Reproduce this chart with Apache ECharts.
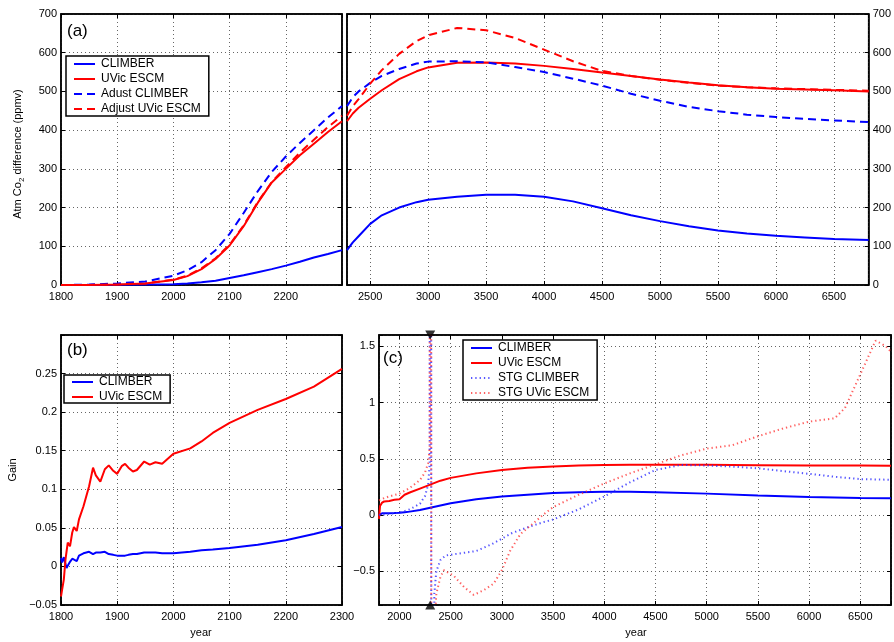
<!DOCTYPE html>
<html><head><meta charset="utf-8">
<script src="https://cdn.jsdelivr.net/npm/echarts@6/dist/echarts.min.js"></script>
<style>html,body{margin:0;padding:0;background:#fff}#c{width:894px;height:642px}</style>
</head><body><div id="c"></div>
<script>
// ---------- Panel (a), left part: 1800-2300 ----------
const yearsA1 = [1800,1850,1900,1950,2000,2025,2050,2075,2100,2125,2150,2175,2200,2225,2250,2275,2300];
const climberA1 = [0,0.2,0.5,1,2,4,7,11,18,25,33,41,50,60,71,80,90];
const uvicA1 = [0,0.3,1.5,4,13,23,41,67,102,152,212,265,300,335,365,395,423];
const adjClimberA1 = [0,1,4,9,24,38,59,90,132,186,242,292,332,367,400,433,462];
const adjUvicA1 = [0,0.3,1.5,4,14,24,43,69,104,154,214,266,304,342,375,408,437];

// ---------- Panel (a), right part: 2300-6800 ----------
const yearsA2 = [2300,2350,2400,2500,2600,2750,2900,3000,3250,3500,3750,4000,4250,4500,4750,5000,5250,5500,5750,6000,6250,6500,6800];
const climberA2 = [90,110,126,158,180,200,214,220,228,233,233,228,216,198,180,165,152,141,133,127,123,119,116];
const uvicA2 = [423,443,458,481,503,532,552,562,574,575,572,566,558,549,540,531,523,516,511,507,505,503,500];
const adjClimberA2 = [462,485,500,522,540,558,572,577,578,575,563,550,533,515,494,476,460,449,440,434,429,425,421];
const adjUvicA2 = [437,462,480,520,555,597,630,645,664,658,638,608,578,553,540,530,522,515,511,508,506,504,502];

// ---------- Panel (b): Gain 1800-2300 ----------
const yearsB = [1800,1802,1805,1808,1810,1812,1816,1820,1823,1828,1832,1840,1850,1857,1862,1870,1878,1885,1893,1900,1908,1914,1920,1928,1935,1948,1958,1968,1980,2000,2030,2050,2070,2100,2150,2200,2250,2300];
const uvicB = [-0.039,-0.03,-0.017,0.009,0.02,0.031,0.026,0.044,0.051,0.046,0.061,0.078,0.104,0.128,0.118,0.110,0.126,0.131,0.124,0.120,0.130,0.133,0.128,0.123,0.125,0.136,0.132,0.135,0.133,0.146,0.153,0.162,0.173,0.186,0.203,0.217,0.233,0.256];
const climberB = [0.011,0.005,0.012,0.003,-0.002,0.001,0.006,0.010,0.008,0.007,0.014,0.017,0.019,0.016,0.018,0.018,0.019,0.016,0.015,0.014,0.014,0.014,0.015,0.016,0.016,0.018,0.018,0.018,0.017,0.017,0.019,0.021,0.022,0.024,0.028,0.034,0.042,0.051];

// ---------- Panel (c): 1800-6800 ----------
const yearsC = [1800,1810,1830,1850,1900,1950,2000,2050,2100,2200,2300,2400,2500,2750,3000,3250,3500,3750,4000,4250,4500,5000,5500,6000,6500,6800];
const climberC = [0,0.015,0.015,0.015,0.015,0.017,0.02,0.025,0.03,0.045,0.065,0.085,0.105,0.14,0.165,0.18,0.195,0.203,0.207,0.207,0.202,0.19,0.173,0.16,0.152,0.148];
const uvicC = [-0.035,0.08,0.11,0.12,0.125,0.135,0.14,0.18,0.2,0.235,0.27,0.305,0.33,0.37,0.40,0.42,0.432,0.44,0.445,0.447,0.447,0.446,0.443,0.44,0.44,0.438];
const yearsStgClimber = [1800,1900,2000,2100,2200,2250,2280,2295,2305,2315,2340,2360,2400,2450,2600,2750,2900,3000,3100,3250,3400,3500,3750,4000,4250,4500,4750,5000,5250,5500,5750,6000,6250,6500,6800];
const stgClimber = [0,0.01,0.02,0.05,0.10,0.17,0.27,0.45,30,-30,-0.7,-0.5,-0.40,-0.36,-0.34,-0.32,-0.26,-0.21,-0.16,-0.11,-0.065,-0.04,0.05,0.165,0.29,0.40,0.445,0.44,0.43,0.415,0.39,0.366,0.34,0.319,0.313];
const yearsStgUvic = [1800,1850,1900,2000,2100,2200,2250,2280,2295,2305,2315,2340,2360,2400,2434,2530,2630,2725,2820,2920,3000,3080,3180,3300,3400,3500,3750,4000,4250,4500,4750,5000,5250,5500,5750,6000,6250,6350,6500,6650,6750,6800];
const stgUvic = [0.13,0.15,0.165,0.19,0.24,0.31,0.38,0.46,0.6,30,-30,-1.0,-0.7,-0.55,-0.49,-0.54,-0.64,-0.71,-0.67,-0.61,-0.49,-0.32,-0.17,-0.08,0.0,0.07,0.18,0.28,0.37,0.45,0.53,0.59,0.62,0.70,0.77,0.83,0.86,0.95,1.25,1.55,1.50,1.45];
const markerYears = [2300];

// ---------- tick label lists ----------
const ticksA = [0,100,200,300,400,500,600,700];
const ticksB = [-0.05,0,0.05,0.1,0.15,0.2,0.25];
const ticksC = [-0.5,0,0.5,1,1.5];

const FONT = "'Liberation Sans', Arial, Helvetica, sans-serif";
const BLUE = '#0000ff', RED = '#ff0000';
const zip = (xs, ys) => xs.map((x, i) => [x, ys[i]]);

function fmtNum(v) {
  const r = parseFloat(v.toFixed(4));
  return r < 0 ? '\u2212' + String(-r) : String(r);
}
function onlyIn(list) {
  return v => {
    const r = parseFloat(v.toFixed(4));
    return list.some(t => Math.abs(t - r) < 1e-6) ? fmtNum(r) : '';
  };
}
function multipleOf(step, hide) {
  return v => {
    const k = v / step;
    if (Math.abs(k - Math.round(k)) > 1e-6) return '';
    if (hide && hide.includes(v)) return '';
    return String(v);
  };
}

const gridLine = { show: true, lineStyle: { type: [1, 3], color: '#666', width: 1 } };
const axLine = { show: true, onZero: false, lineStyle: { color: '#000', width: 1.5 } };
const axTick = { show: true, inside: true, length: 4, lineStyle: { color: '#000', width: 1 } };
const lblStyle = { color: '#000', fontSize: 11, fontFamily: FONT };

function mkAx(gi, min, max, pos, spacing, formatter, show, margin) {
  const a = { type: 'value', gridIndex: gi, min, max, position: pos,
    axisLine: axLine, axisTick: axTick,
    splitLine: show ? gridLine : { show: false },
    axisLabel: show ? Object.assign({ formatter, margin, showMinLabel: true, showMaxLabel: true }, lblStyle) : { show: false } };
  Object.assign(a, spacing);
  return a;
}
const xAx = (gi, min, max, pos, sp, f, show) => mkAx(gi, min, max, pos, sp, f, show, 6);
const yAx = (gi, min, max, pos, sp, f, show) => mkAx(gi, min, max, pos, sp, f, show, 4);

const solid = c => ({ color: c, width: 2, type: 'solid' });
const dashed = c => ({ color: c, width: 2, type: [8, 5] });
const dotted = (c, o) => ({ color: c, width: 2, type: [1.3, 3], opacity: o });

function line(name, xi, data, ls) {
  return { name, type: 'line', xAxisIndex: xi, yAxisIndex: xi, data, showSymbol: false, symbol: 'none',
    lineStyle: ls, itemStyle: { color: ls.color }, clip: true, z: 3 };
}

const chart = echarts.init(document.getElementById('c'), null, { renderer: 'canvas' });

const legendBase = {
  orient: 'vertical', borderColor: '#000', borderWidth: 1.5, backgroundColor: '#fff',
  itemWidth: 21, itemHeight: 10, itemGap: 4,
  itemStyle: { opacity: 0 },
  textStyle: { color: '#000', fontSize: 12, fontFamily: FONT, padding: [0, 0, 0, 1] },
  selectedMode: false, z: 10
};

const option = {
  animation: false,
  backgroundColor: '#fff',
  textStyle: { fontFamily: FONT },
  grid: [
    { left: 61, top: 14, width: 281, height: 271, show: true, borderColor: '#000', borderWidth: 1.5, backgroundColor: '#fff' },
    { left: 347, top: 14, width: 524, height: 271, show: true, borderColor: '#000', borderWidth: 1.5, backgroundColor: '#fff' },
    { left: 61, top: 335, width: 281, height: 270, show: true, borderColor: '#000', borderWidth: 1.5, backgroundColor: '#fff' },
    { left: 379, top: 335, width: 514, height: 270, show: true, borderColor: '#000', borderWidth: 1.5, backgroundColor: '#fff' }
  ],
  xAxis: [
    xAx(0, 1800, 2300, 'bottom', { interval: 100 }, multipleOf(100, [2300]), true),
    xAx(1, 2300, 6800, 'bottom', { splitNumber: 9 }, multipleOf(500), true),
    xAx(2, 1800, 2300, 'bottom', { interval: 100 }, multipleOf(100), true),
    xAx(3, 1800, 6800, 'bottom', { splitNumber: 10 }, multipleOf(500), true),
    xAx(0, 1800, 2300, 'top', { interval: 100 }, null, false),
    xAx(1, 2300, 6800, 'top', { splitNumber: 9 }, null, false),
    xAx(2, 1800, 2300, 'top', { interval: 100 }, null, false),
    xAx(3, 1800, 6800, 'top', { splitNumber: 10 }, null, false)
  ],
  yAxis: [
    yAx(0, 0, 700, 'left', { interval: 100 }, onlyIn(ticksA), true),
    yAx(1, 0, 700, 'right', { interval: 100 }, onlyIn(ticksA), true),
    yAx(2, -0.05, 0.3, 'left', { interval: 0.05 }, onlyIn(ticksB), true),
    yAx(3, -0.8, 1.6, 'left', { splitNumber: 5 }, onlyIn(ticksC), true),
    yAx(0, 0, 700, 'right', { interval: 100 }, null, false),
    yAx(1, 0, 700, 'left', { interval: 100 }, null, false),
    yAx(2, -0.05, 0.3, 'right', { interval: 0.05 }, null, false),
    yAx(3, -0.8, 1.6, 'right', { splitNumber: 5 }, null, false)
  ],
  legend: [
    Object.assign({}, legendBase, { left: 66, top: 56, padding: [2, 8, 1, 7], itemGap: 3,
      data: ['CLIMBER', 'UVic ESCM', 'Adust CLIMBER', 'Adjust UVic ESCM'] }),
    Object.assign({}, legendBase, { left: 64, top: 375, padding: [1, 8, 0, 7], itemGap: 3,
      data: ['CLIMBER', 'UVic ESCM'] }),
    Object.assign({}, legendBase, { left: 463, top: 340, padding: [2, 8, 1, 7], itemGap: 3,
      data: ['CLIMBER', 'UVic ESCM', 'STG CLIMBER', 'STG UVic ESCM'] })
  ],
  series: [
    line('CLIMBER', 0, zip(yearsA1, climberA1), solid(BLUE)),
    line('UVic ESCM', 0, zip(yearsA1, uvicA1), solid(RED)),
    line('Adust CLIMBER', 0, zip(yearsA1, adjClimberA1), dashed(BLUE)),
    line('Adjust UVic ESCM', 0, zip(yearsA1, adjUvicA1), dashed(RED)),
    line('CLIMBER', 1, zip(yearsA2, climberA2), solid(BLUE)),
    line('UVic ESCM', 1, zip(yearsA2, uvicA2), solid(RED)),
    line('Adust CLIMBER', 1, zip(yearsA2, adjClimberA2), dashed(BLUE)),
    line('Adjust UVic ESCM', 1, zip(yearsA2, adjUvicA2), dashed(RED)),
    line('CLIMBER', 2, zip(yearsB, climberB), solid(BLUE)),
    line('UVic ESCM', 2, zip(yearsB, uvicB), solid(RED)),
    line('CLIMBER', 3, zip(yearsC, climberC), solid(BLUE)),
    line('UVic ESCM', 3, zip(yearsC, uvicC), solid(RED)),
    line('STG CLIMBER', 3, zip(yearsStgClimber, stgClimber), dotted('#2a2aff', 0.8)),
    line('STG UVic ESCM', 3, zip(yearsStgUvic, stgUvic), dotted('#ff2a2a', 0.75)),
    { name: 'mark-top', type: 'scatter', xAxisIndex: 3, yAxisIndex: 3, clip: false, z: 6,
      data: markerYears.map(y => [y, 1.6]), symbol: 'triangle', symbolRotate: 180, symbolSize: [10, 9],
      itemStyle: { color: '#000' } },
    { name: 'mark-bottom', type: 'scatter', xAxisIndex: 3, yAxisIndex: 3, clip: false, z: 6,
      data: markerYears.map(y => [y, -0.8]), symbol: 'triangle', symbolSize: [10, 9],
      itemStyle: { color: '#000' } }
  ],
  graphic: [
    { type: 'text', left: 67, top: 23, z: 20, style: { text: '(a)', fontSize: 17, fontFamily: FONT, fill: '#000' } },
    { type: 'text', left: 67, top: 342, z: 20, style: { text: '(b)', fontSize: 17, fontFamily: FONT, fill: '#000' } },
    { type: 'text', left: 383, top: 350, z: 20, style: { text: '(c)', fontSize: 17, fontFamily: FONT, fill: '#000' } },
    { type: 'text', x: 18, y: 154, rotation: Math.PI / 2, z: 20,
      style: { text: '{a|Atm Co}{s|2}{a| difference (ppmv)}', align: 'center', verticalAlign: 'middle',
        rich: { a: { fontSize: 11, fontFamily: FONT, fill: '#000', lineHeight: 14 },
                s: { fontSize: 8, fontFamily: FONT, fill: '#000', lineHeight: 14, padding: [7, 0, 0, 0] } } } },
    { type: 'text', x: 13, y: 470, rotation: Math.PI / 2, z: 20,
      style: { text: 'Gain', fontSize: 11, fontFamily: FONT, fill: '#000', align: 'center', verticalAlign: 'middle' } },
    { type: 'text', x: 201, y: 633, z: 20,
      style: { text: 'year', fontSize: 11, fontFamily: FONT, fill: '#000', align: 'center', verticalAlign: 'middle' } },
    { type: 'text', x: 636, y: 633, z: 20,
      style: { text: 'year', fontSize: 11, fontFamily: FONT, fill: '#000', align: 'center', verticalAlign: 'middle' } }
  ]
};
chart.setOption(option);
</script></body></html>
